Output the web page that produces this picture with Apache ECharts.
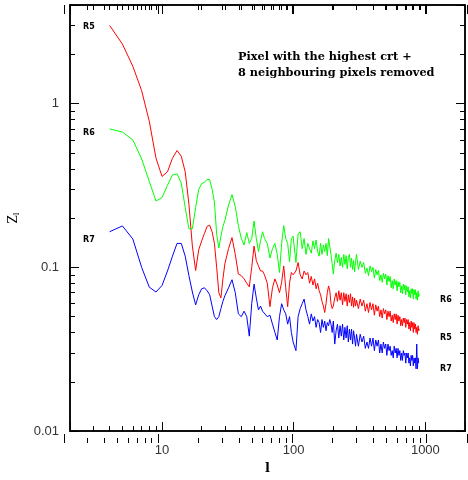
<!DOCTYPE html>
<html><head><meta charset="utf-8">
<script src="https://cdn.jsdelivr.net/npm/echarts@6/dist/echarts.min.js"></script>
<style>html,body{margin:0;padding:0;background:#fff}#c{width:468px;height:480px}</style>
</head><body><div id="c"></div>
<script>
// multipole l
const ell = [4,5,6,7,8,9,10,11,12,13,14,15,16,17,18,19,20,21,22,23,24,25,26,27,28,29,30,
32,34,36,38,40,42,44,46,48,50,52,54,56,58,60,
63,66,69,72,75,78,81,84,87,90,93,96,99,
104,108,112,116,120,124,128,132,136,140,144,148,152,156,160,164,168,172,176,180,184,188,192,196,200,
205,210,215,220,225,230,235,240,245,250,255,260,265,270,275,280,285,290,295,300,
310,320,330,340,350,360,370,380,390,400,410,420,430,440,450,460,470,480,490,500,
510,520,530,540,550,560,570,580,590,600,610,620,630,640,650,660,670,680,690,700,
710,720,730,740,750,760,770,780,790,800,810,820,830,840,850,860,870,880,890,900];

const R5 = [3.0,2.31,1.69,1.2,0.78,0.464,0.359,0.383,0.464,0.517,0.477,0.383,0.243,0.135,0.0956,0.128,0.145,0.161,0.178,0.181,0.165,0.14,0.10,0.07,0.065,0.085,0.105,
0.13,0.152,0.12,0.091,0.089,0.085,0.08,0.076,0.10,0.135,0.11,0.102,0.095,0.095,0.09,
0.08,0.0575,0.075,0.085,0.078,0.07,0.081,0.102,0.075,0.0575,0.08,0.093,0.09,
0.095,0.107,0.09,0.085,0.095,0.09,0.093,0.08,0.088,0.078,0.085,0.074,0.08,0.072,0.068,0.062,0.058,0.053,0.06,0.07,0.077,0.072,0.06,0.056,0.058,
0.065,0.07,0.062,0.072,0.063,0.07,0.059,0.07,0.062,0.069,0.058,0.068,0.061,0.069,0.058,0.066,0.057,0.065,0.058,0.063,
0.056,0.064,0.058,0.063,0.054,0.06,0.053,0.061,0.055,0.06,0.051,0.059,0.054,0.058,0.05,0.055,0.049,0.056,0.052,0.055,
0.048,0.054,0.05,0.054,0.047,0.051,0.046,0.052,0.048,0.052,0.045,0.051,0.047,0.05,0.044,0.048,0.044,0.049,0.046,0.049,
0.043,0.048,0.045,0.048,0.042,0.046,0.041,0.047,0.043,0.046,0.04,0.046,0.042,0.045,0.04,0.043,0.039,0.044,0.041,0.042];

const R6 = [0.70,0.67,0.60,0.46,0.335,0.254,0.267,0.317,0.367,0.372,0.327,0.232,0.172,0.172,0.232,0.299,0.325,0.33,0.345,0.343,0.30,0.25,0.16,0.131,0.155,0.177,0.193,
0.24,0.278,0.235,0.18,0.15,0.137,0.163,0.14,0.15,0.192,0.15,0.125,0.145,0.165,0.15,
0.14,0.114,0.13,0.14,0.12,0.093,0.14,0.18,0.15,0.14,0.108,0.15,0.155,
0.107,0.16,0.165,0.13,0.15,0.12,0.14,0.13,0.122,0.145,0.13,0.147,0.125,0.117,0.14,0.12,0.137,0.125,0.14,0.118,0.15,0.147,0.12,0.105,0.091,
0.11,0.122,0.107,0.12,0.102,0.115,0.1,0.12,0.104,0.118,0.098,0.115,0.12,0.1,0.114,0.097,0.11,0.094,0.108,0.12,
0.097,0.109,0.1,0.107,0.092,0.099,0.089,0.102,0.094,0.1,0.086,0.097,0.09,0.096,0.083,0.09,0.081,0.092,0.085,0.091,
0.078,0.089,0.082,0.088,0.075,0.083,0.074,0.085,0.078,0.083,0.072,0.082,0.076,0.081,0.07,0.077,0.069,0.079,0.073,0.078,
0.068,0.077,0.071,0.076,0.066,0.072,0.065,0.074,0.069,0.074,0.064,0.073,0.068,0.073,0.064,0.07,0.063,0.072,0.066,0.069];

const R7 = [0.165,0.179,0.149,0.10,0.0757,0.0707,0.0775,0.095,0.117,0.14,0.14,0.117,0.089,0.0707,0.059,0.068,0.074,0.075,0.072,0.068,0.058,0.05,0.048,0.05,0.056,0.062,0.067,
0.075,0.084,0.07,0.052,0.05,0.054,0.05,0.038,0.06,0.079,0.065,0.055,0.058,0.054,0.055,
0.05,0.051,0.045,0.04,0.036,0.05,0.06,0.055,0.052,0.045,0.05,0.04,0.035,
0.031,0.05,0.056,0.06,0.064,0.055,0.05,0.045,0.052,0.047,0.05,0.043,0.048,0.046,0.04,0.048,0.043,0.047,0.041,0.046,0.044,0.048,0.045,0.04,0.047,
0.034,0.041,0.045,0.037,0.044,0.038,0.045,0.036,0.043,0.037,0.044,0.035,0.042,0.036,0.042,0.034,0.041,0.037,0.033,0.039,
0.033,0.039,0.035,0.038,0.032,0.035,0.032,0.037,0.033,0.037,0.031,0.036,0.033,0.036,0.03,0.034,0.03,0.035,0.032,0.034,
0.029,0.034,0.031,0.033,0.029,0.031,0.028,0.033,0.03,0.032,0.028,0.032,0.029,0.031,0.027,0.03,0.027,0.031,0.029,0.03,
0.026,0.03,0.028,0.03,0.026,0.028,0.025,0.029,0.027,0.029,0.025,0.028,0.026,0.028,0.024,0.034,0.024,0.028,0.026,0.026];

const X_MIN = 2, X_MAX = 2000, Y_MIN = 0.01, Y_MAX = 4;

function pairs(v){ return ell.map((x,i)=>[x, v[i]]); }

const chart = echarts.init(document.getElementById('c'), null, {renderer:'canvas'});
const labelFont = {fontFamily:'Liberation Sans', fontSize:13, color:'#333'};
const isDecade = v => { const l = Math.log10(v); return Math.abs(l - Math.round(l)) < 1e-6; };
const tickCfg = {show:true, inside:true, length:9, lineStyle:{color:'#000', width:1}};
const minorCfg = {show:true, splitNumber:9, length:5, lineStyle:{color:'#000', width:1}};
const lineCfg = {show:true, onZero:false, lineStyle:{color:'#000', width:1.5}};
const gridBox = {left:64, right:1, top:5, bottom:37};

const tag = (t,x,y)=>({type:'text', silent:true, x, y, style:{text:t, font:'bold 8px "DejaVu Sans"', fill:'#000', textVerticalAlign:'middle'}});

chart.setOption({
  animation:false,
  grid:[
    Object.assign({show:true, borderColor:'#000', borderWidth:1.5}, gridBox),
    Object.assign({show:false}, gridBox)
  ],
  xAxis:[
    {type:'log', gridIndex:0, logBase:10, min:X_MIN, max:X_MAX, position:'bottom', name:'l', nameLocation:'middle', nameGap:29,
      nameTextStyle:{fontFamily:'DejaVu Serif', fontWeight:'bold', fontSize:13, color:'#000'},
      axisLine:lineCfg, axisTick:tickCfg, minorTick:minorCfg, splitLine:{show:false}, minorSplitLine:{show:false},
      axisLabel:Object.assign({margin:13, formatter:v=> isDecade(v) ? String(Math.round(v)) : ''}, labelFont)},
    {type:'log', gridIndex:0, logBase:10, min:X_MIN, max:X_MAX, position:'top',
      axisLine:lineCfg, axisTick:tickCfg, minorTick:minorCfg, splitLine:{show:false}, axisLabel:{show:false}},
    // tick-only copies of the x axes in an empty overlay grid
    {type:'log', gridIndex:1, logBase:10, min:X_MIN, max:X_MAX, position:'bottom',
      axisLine:{show:false, onZero:false}, axisTick:tickCfg, minorTick:minorCfg, splitLine:{show:false}, axisLabel:{show:false}},
    {type:'log', gridIndex:1, logBase:10, min:X_MIN, max:X_MAX, position:'top',
      axisLine:{show:false, onZero:false}, axisTick:tickCfg, minorTick:minorCfg, splitLine:{show:false}, axisLabel:{show:false}}
  ],
  yAxis:[
    {type:'log', gridIndex:0, logBase:10, min:Y_MIN, max:Y_MAX, position:'left', name:'Z{s|l}', nameLocation:'middle', nameGap:49, nameRotate:90,
      nameTextStyle:{fontFamily:'DejaVu Serif', fontSize:12, color:'#000', rich:{s:{fontSize:8, fontFamily:'DejaVu Serif', verticalAlign:'bottom', padding:[6,0,0,0]}}},
      axisLine:lineCfg, axisTick:tickCfg, minorTick:minorCfg, splitLine:{show:false}, minorSplitLine:{show:false},
      axisLabel:Object.assign({margin:11, showMaxLabel:false,
        formatter:v=> isDecade(v) ? String(+v.toPrecision(1)) : ''}, labelFont)},
    {type:'log', gridIndex:0, logBase:10, min:Y_MIN, max:Y_MAX, position:'right',
      axisLine:lineCfg, axisTick:tickCfg, minorTick:minorCfg, splitLine:{show:false}, axisLabel:{show:false}},
    {type:'log', gridIndex:1, logBase:10, min:Y_MIN, max:Y_MAX, position:'left',
      axisLine:{show:false, onZero:false}, axisTick:{show:false}, minorTick:{show:false}, splitLine:{show:false}, axisLabel:{show:false}}
  ],
  series:[
    {name:'R5', type:'line', xAxisIndex:0, yAxisIndex:0, data:pairs(R5), showSymbol:false, lineStyle:{color:'#ff0000', width:1}, itemStyle:{color:'#ff0000'}},
    {name:'R6', type:'line', xAxisIndex:0, yAxisIndex:0, data:pairs(R6), showSymbol:false, lineStyle:{color:'#00ff00', width:1}, itemStyle:{color:'#00ff00'}},
    {name:'R7', type:'line', xAxisIndex:0, yAxisIndex:0, data:pairs(R7), showSymbol:false, lineStyle:{color:'#0000ff', width:1}, itemStyle:{color:'#0000ff'}}
  ],
  graphic:{elements:[
    tag('R5',83,27), tag('R6',83,133), tag('R7',83,240), tag('R6',440,300), tag('R5',440,338), tag('R7',440,369),
    {type:'text', silent:true, x:238, y:57, style:{text:'Pixel with the highest crt +', font:'bold 11.3px "DejaVu Serif"', fill:'#000', textVerticalAlign:'middle'}},
    {type:'text', silent:true, x:238, y:73, style:{text:'8 neighbouring pixels removed', font:'bold 11.3px "DejaVu Serif"', fill:'#000', textVerticalAlign:'middle'}}
  ]}
});
</script></body></html>
